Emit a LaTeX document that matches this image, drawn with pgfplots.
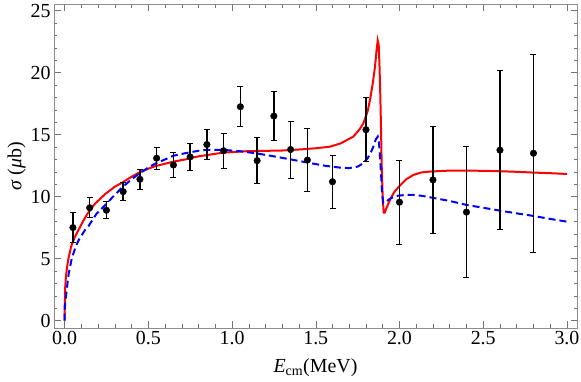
\documentclass[border=0pt]{standalone}
\usepackage{pgfplots}
\pgfplotsset{compat=1.18}
\usepackage{pgfplotstable}
\usepackage{fontspec}
\setmainfont{Liberation Serif}

\pgfplotstableread{
x y e
0.05 7.5 1.2
0.15 9.1 0.8
0.25 8.9 0.7
0.35 10.4 0.75
0.45 11.4 0.8
0.55 13.1 0.9
0.65 12.55 1.0
0.75 13.2 1.1
0.85 14.2 1.2
0.95 13.7 1.4
1.05 17.25 1.6
1.15 12.9 1.85
1.25 16.5 2.0
1.35 13.8 2.3
1.45 12.95 2.55
1.6 11.2 2.15
1.8 15.4 2.6
2.0 9.55 3.4
2.2 11.35 4.3
2.4 8.75 5.3
2.6 13.75 6.4
2.8 13.5 8.0
}\datatable

\begin{document}
\begin{tikzpicture}
\begin{axis}[
  name=ax,
  scale only axis,
  width=523bp, height=323.5bp,
  xmin=-0.063, xmax=3.06,
  ymin=-0.6, ymax=25.5,
  axis line style={black!45},
  tick style={black!55, line width=0.5pt},
  tick align=inside,
  major tick length=6.5bp,
  minor tick length=3.5bp,
  xtick={0,0.5,...,3.0},
  ytick={0,5,...,25},
  minor xtick={0.1,0.2,0.3,0.4,0.6,0.7,0.8,0.9,1.1,1.2,1.3,1.4,1.6,1.7,1.8,1.9,2.1,2.2,2.3,2.4,2.6,2.7,2.8,2.9},
  minor ytick={1,2,3,4,6,7,8,9,11,12,13,14,16,17,18,19,21,22,23,24},
  xticklabel style={/pgf/number format/.cd, fixed, fixed zerofill, precision=1},
  /pgf/number format/assume math mode=true,
  ticklabel style={font=\fontsize{20}{22}\selectfont},
  label style={font=\fontsize{20}{22}\selectfont},
  xlabel={\textit{E}\textsubscript{cm}(MeV)},
  ylabel={\textit{σ} (\textit{μ}b)},
  xlabel style={yshift=-7bp},
  ylabel style={yshift=-2bp},
  clip=true,
]
\addplot[red, line width=2pt] coordinates {
(0,0) (0.001,1.2) (0.003,2.5) (0.008,3.5) (0.015,4.3) (0.023,5.0) (0.04,6.0) (0.06,6.7) (0.083,7.3) (0.11,8.0) (0.136,8.6) (0.18,9.4) (0.242,10.2)
(0.3,10.8) (0.341,11.1) (0.4,11.6) (0.44,11.9) (0.5,12.25) (0.54,12.45) (0.6,12.65) (0.65,12.82) (0.72,13.0) (0.8,13.25) (0.948,13.55) (1.1,13.67) (1.227,13.7) (1.3,13.72) (1.4,13.8) (1.5,13.9) (1.585,14.03) (1.65,14.3) (1.724,14.84) (1.76,15.4) (1.784,15.9) (1.81,16.9) (1.824,17.8) (1.84,19.1) (1.854,20.5) (1.863,21.8) (1.87,22.6) (1.876,22.2) (1.88,20.8) (1.884,19.0) (1.889,16) (1.894,12.4) (1.9,9.8) (1.906,8.7) (1.912,8.7) (1.92,9.0) (1.943,9.73) (1.97,10.4) (2.003,10.9) (2.04,11.4) (2.083,11.75) (2.13,11.95) (2.18,12.02) (2.3,12.1) (2.4,12.1) (2.5,12.08) (2.6,12.05) (2.7,12.0) (2.8,11.94) (2.9,11.89) (3.0,11.83)
};
\addplot[blue, line width=2pt, dash pattern=on 7bp off 4bp] coordinates {
(0,0) (0.003,1.3) (0.013,2.5) (0.025,3.8) (0.043,5.0) (0.07,6.1) (0.093,6.7) (0.122,7.3) (0.142,7.6) (0.19,8.6) (0.242,9.3) (0.29,10.0) (0.341,10.7) (0.4,11.4) (0.44,11.8) (0.5,12.35) (0.54,12.65) (0.6,13.0) (0.65,13.3) (0.72,13.5) (0.8,13.7) (0.85,13.77) (0.95,13.77) (1.05,13.66) (1.15,13.48) (1.25,13.25) (1.35,13.0) (1.45,12.75) (1.55,12.5) (1.65,12.33) (1.7,12.3) (1.75,12.42) (1.784,12.69) (1.81,13.1) (1.83,13.6) (1.844,14.03) (1.858,14.6) (1.87,14.84) (1.877,14.4) (1.884,13.2) (1.89,11.8) (1.896,10.3) (1.903,9.5) (1.91,9.5) (1.93,9.7) (1.95,9.88) (1.983,10.06) (2.03,10.13) (2.083,10.14) (2.13,10.07) (2.18,9.95) (2.3,9.65) (2.4,9.33) (2.5,9.1) (2.6,8.87) (2.7,8.65) (2.8,8.44) (2.9,8.2) (3.0,7.98)
};
\addplot[only marks, mark=*, mark size=3.3bp, black,
  error bars/.cd, y dir=both, y explicit,
  error bar style={line width=1.5pt, black},
  error mark options={rotate=90, mark size=3bp, line width=1pt}]
  table[x=x, y=y, y error=e] {\datatable};
\end{axis}
\pgfresetboundingbox
\path ([shift={(-54bp,-54bp)}]ax.south west) rectangle ([shift={(4bp,4.5bp)}]ax.north east);
\end{tikzpicture}
\end{document}
